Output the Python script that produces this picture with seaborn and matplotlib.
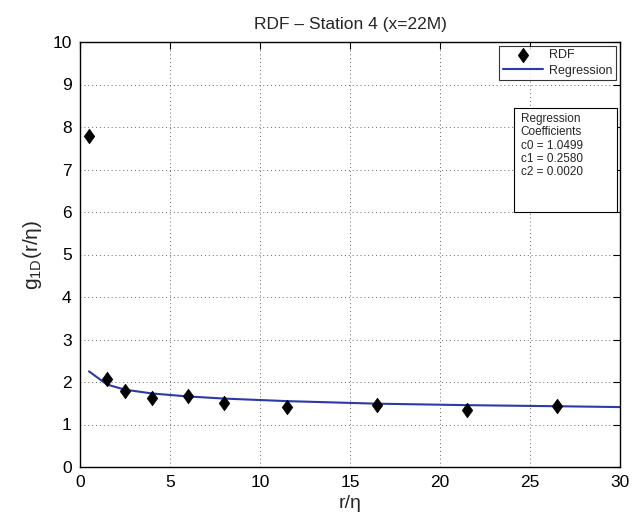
import matplotlib
matplotlib.use("Agg")
import matplotlib.pyplot as plt
import matplotlib.patches as mpatches
from matplotlib.path import Path
import seaborn as sns
import pandas as pd

# data
r_data = [0.5, 1.5, 2.5, 4, 6, 8, 11.5, 16.5, 21.5, 26.5]
g_data = [7.78, 2.08, 1.80, 1.63, 1.66, 1.50, 1.42, 1.45, 1.33, 1.43]
r_fit = [0.5, 1.5, 2.5, 4, 6, 8, 11.5, 16.5, 21.5, 26.5, 30]
g_fit = [2.25, 1.94, 1.82, 1.73, 1.66, 1.61, 1.55, 1.49, 1.455, 1.43, 1.41]
x_ticks = [0, 5, 10, 15, 20, 25, 30]
y_ticks = list(range(0, 11))
coef_text = "Regression\nCoefficients\nc0 = 1.0499\nc1 = 0.2580\nc2 = 0.0020"

sns.set_theme(style="white")
plt.rcParams['font.family'] = ['Liberation Sans', 'DejaVu Sans']
plt.rcParams['mathtext.fontset'] = 'custom'
plt.rcParams['mathtext.rm'] = 'Liberation Sans'

diamond = Path([(0, 1), (0.72, 0), (0, -1), (-0.72, 0), (0, 1)],
               [Path.MOVETO, Path.LINETO, Path.LINETO, Path.LINETO, Path.CLOSEPOLY])

fig = plt.figure(figsize=(6.41, 5.26), dpi=100)
ax = fig.add_axes([80/641, 1-467/526, 540/641, 425/526])

df_pts = pd.DataFrame({"r": r_data, "g": g_data})
df_fit = pd.DataFrame({"r": r_fit, "g": g_fit})

sns.scatterplot(data=df_pts, x="r", y="g", ax=ax, marker=diamond, s=110,
                color="black", edgecolor="black", linewidth=0.5, label="RDF", zorder=3)
sns.lineplot(data=df_fit, x="r", y="g", ax=ax, color="#2a3aa8", linewidth=1.5,
             label="Regression", zorder=2)

ax.set_xlim(0, 30)
ax.set_ylim(0, 10)
ax.set_xticks(x_ticks)
ax.set_yticks(y_ticks)
ax.tick_params(direction="in", top=True, right=True, length=5, width=0.8,
               labelsize=12.5, colors="black", pad=6)
for s in ax.spines.values():
    s.set_color("black")
    s.set_linewidth(1.0)
ax.grid(True, linestyle=(0, (1, 3)), color="#666666", linewidth=0.7)

ax.set_title("RDF – Station 4 (x=22M)", fontsize=12.5, pad=9)
ax.set_xlabel("r/η", fontsize=14, labelpad=3)
ax.set_ylabel("g$_{\\mathregular{1D}}$(r/η)", fontsize=15, labelpad=6)

leg = ax.legend(loc="upper right", fontsize=9, frameon=True, fancybox=False,
                edgecolor="black", borderaxespad=0.3, handlelength=3.2,
                borderpad=0.3, labelspacing=0.25, handletextpad=0.5)
leg.get_frame().set_linewidth(0.8)

box = mpatches.Rectangle((0.804, 0.60), 0.19, 0.245, transform=ax.transAxes,
                         facecolor="white", edgecolor="black", linewidth=0.8, zorder=5)
ax.add_patch(box)
ax.text(0.816, 0.833, coef_text, transform=ax.transAxes, fontsize=8.5,
        va="top", ha="left", linespacing=1.15, zorder=6)

fig.savefig("out.png", dpi=100)
